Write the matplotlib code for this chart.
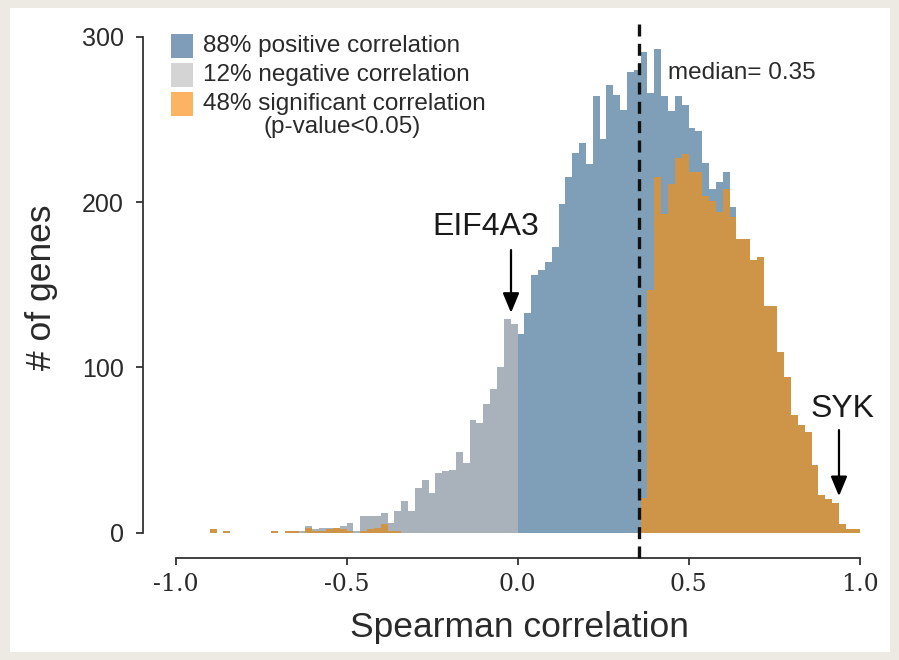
import matplotlib
matplotlib.use('Agg')
import matplotlib.pyplot as plt
import numpy as np
from matplotlib.patches import Rectangle

# ---------------- data ----------------
bin_edges = np.linspace(-1.0, 1.0, 101)          # 100 bins of width 0.02

total_counts = [0, 0, 0, 0, 0, 2, 0, 1, 0, 0,
                0, 0, 0, 0, 1, 0, 1, 1, 1, 4,
                2, 3, 3, 3, 4, 6, 1, 10, 10, 10,
                12, 6, 13, 19, 13, 27, 32, 24, 36, 37,
                38, 49, 42, 68, 66, 78, 87, 100, 129, 126,
                120, 133, 156, 159, 164, 173, 199, 215, 230, 236,
                223, 264, 238, 271, 265, 256, 279, 280, 291, 266,
                293, 264, 255, 264, 259, 245, 243, 224, 208, 212,
                218, 197, 178, 178, 165, 167, 137, 137, 109, 94,
                71, 65, 61, 41, 23, 20, 18, 5, 2, 2]

significant_counts = [0, 0, 0, 0, 0, 2, 0, 1, 0, 0,
                      0, 0, 0, 0, 1, 0, 1, 1, 0, 3,
                      1, 1, 2, 3, 2, 1, 0, 1, 2, 3,
                      5, 1, 1, 0, 0, 0, 0, 0, 0, 0,
                      0, 0, 0, 0, 0, 0, 0, 0, 0, 0,
                      0, 0, 0, 0, 0, 0, 0, 0, 0, 0,
                      0, 0, 0, 0, 0, 0, 0, 0, 21, 147,
                      215, 193, 211, 227, 229, 218, 218, 204, 201, 194,
                      208, 191, 178, 178, 165, 167, 137, 137, 109, 94,
                      71, 65, 61, 41, 23, 20, 18, 5, 2, 2]

median_value = 0.355
median_label = "median= 0.35"
legend_labels = ["88% positive correlation", "12% negative correlation",
                 "48% significant correlation"]
legend_note = "(p-value<0.05)"
x_ticks = [-1.0, -0.5, 0.0, 0.5, 1.0]
x_ticklabels = ["-1.0", "-0.5", "0.0", "0.5", "1.0"]
y_ticks = [0, 100, 200, 300]
genes = ["EIF4A3", "SYK"]
gene_x = [-0.019, 0.94]
gene_tip = [133, 22]

# ---------------- styling ----------------
BLUE = '#7F9EB8'
GREY_BAR = '#A9B2BB'
ORANGE_BAR = '#CE9448'
LEG_BLUE = '#7F9DB9'
LEG_GREY = '#D4D4D4'
LEG_ORANGE = '#FDB462'
TXT = '#2a2a2a'
SANS = ['Liberation Sans', 'DejaVu Sans']

plt.rcParams['font.family'] = SANS

W, H = 899, 660
def fx(p): return p / W
def fy(p): return 1 - p / H

fig = plt.figure(figsize=(W / 100, H / 100), dpi=100)
fig.patch.set_facecolor('#EDEAE3')
fig.add_artist(Rectangle((fx(10), fy(652)), (890 - 10) / W, (652 - 8) / H,
                         transform=fig.transFigure, facecolor='white',
                         edgecolor='none', zorder=-5))

ax = fig.add_axes([fx(175.5), fy(532.5), 684 / W, (532.5 - 37) / H])
ax.set_facecolor('none')
ax.set_xlim(-1, 1)
ax.set_ylim(0, 300)

total = np.array(total_counts)
sig = np.array(significant_counts)
neg = bin_edges[:-1] < 0
ax.stairs(np.where(neg, total, 0), bin_edges, fill=True, color=GREY_BAR, lw=0)
ax.stairs(np.where(~neg, total, 0), bin_edges, fill=True, color=BLUE, lw=0)
ax.stairs(sig, bin_edges, fill=True, color=ORANGE_BAR, lw=0)

# median line
ax.plot([median_value, median_value], [-15.5, 310], color='#111111', lw=2.4,
        linestyle=(0, (3.6, 2.2)), clip_on=False, zorder=5)
ax.text(0.44, 278, median_label, ha='left', va='center', fontsize=17.5, color=TXT)

# gene annotations
ax.annotate('', xy=(gene_x[0], gene_tip[0]), xytext=(gene_x[0], 171),
            arrowprops=dict(arrowstyle='-|>,head_length=0.6,head_width=0.25',
                            color='black', lw=1.6, mutation_scale=20,
                            shrinkA=0, shrinkB=0))
ax.text(-0.092, 185, genes[0], ha='center', va='center', fontsize=23, color='#1a1a1a')
ax.annotate('', xy=(gene_x[1], gene_tip[1]), xytext=(gene_x[1], 62),
            arrowprops=dict(arrowstyle='-|>,head_length=0.6,head_width=0.25',
                            color='black', lw=1.6, mutation_scale=20,
                            shrinkA=0, shrinkB=0))
ax.text(0.949, 75, genes[1], ha='center', va='center', fontsize=23, color='#1a1a1a')

# axes styling
for s in ['top', 'right']:
    ax.spines[s].set_visible(False)
ax.spines['left'].set_position(('outward', 23.4))
ax.spines['bottom'].set_position(('outward', 18.4))
ax.spines['left'].set_bounds(0, 300)
ax.spines['bottom'].set_bounds(-1, 1)
for s in ['left', 'bottom']:
    ax.spines[s].set_color('#333333')
    ax.spines[s].set_linewidth(1.3)
ax.set_xticks(x_ticks)
ax.set_xticklabels(x_ticklabels, fontfamily='DejaVu Serif', fontsize=17, color=TXT)
ax.set_yticks(y_ticks)
ax.set_yticklabels([str(v) for v in y_ticks], fontsize=18, color=TXT)
ax.tick_params(axis='both', direction='out', length=5, width=1.3, color='#333333')
ax.tick_params(axis='y', pad=9)
ax.tick_params(axis='x', pad=6)

fig.text(fx(519), fy(628), 'Spearman correlation', ha='center', va='center',
         fontsize=25.5, color=TXT)
fig.text(fx(42), fy(287), '# of genes', ha='center', va='center', rotation=90,
         fontsize=25.5, color=TXT)

# legend (drawn manually)
leg_colors = [LEG_BLUE, LEG_GREY, LEG_ORANGE]
row_y = [46, 75, 104]
for c, lab, yy in zip(leg_colors, legend_labels, row_y):
    fig.add_artist(Rectangle((fx(171), fy(yy + 11.5)), 22 / W, 23 / H,
                             transform=fig.transFigure, facecolor=c, edgecolor='none'))
    fig.text(fx(203), fy(yy), lab, ha='left', va='center', fontsize=17.5, color=TXT)
fig.text(fx(342), fy(127), legend_note, ha='center', va='center', fontsize=17.5, color=TXT)

fig.savefig('out.png', dpi=100, facecolor=fig.get_facecolor())
